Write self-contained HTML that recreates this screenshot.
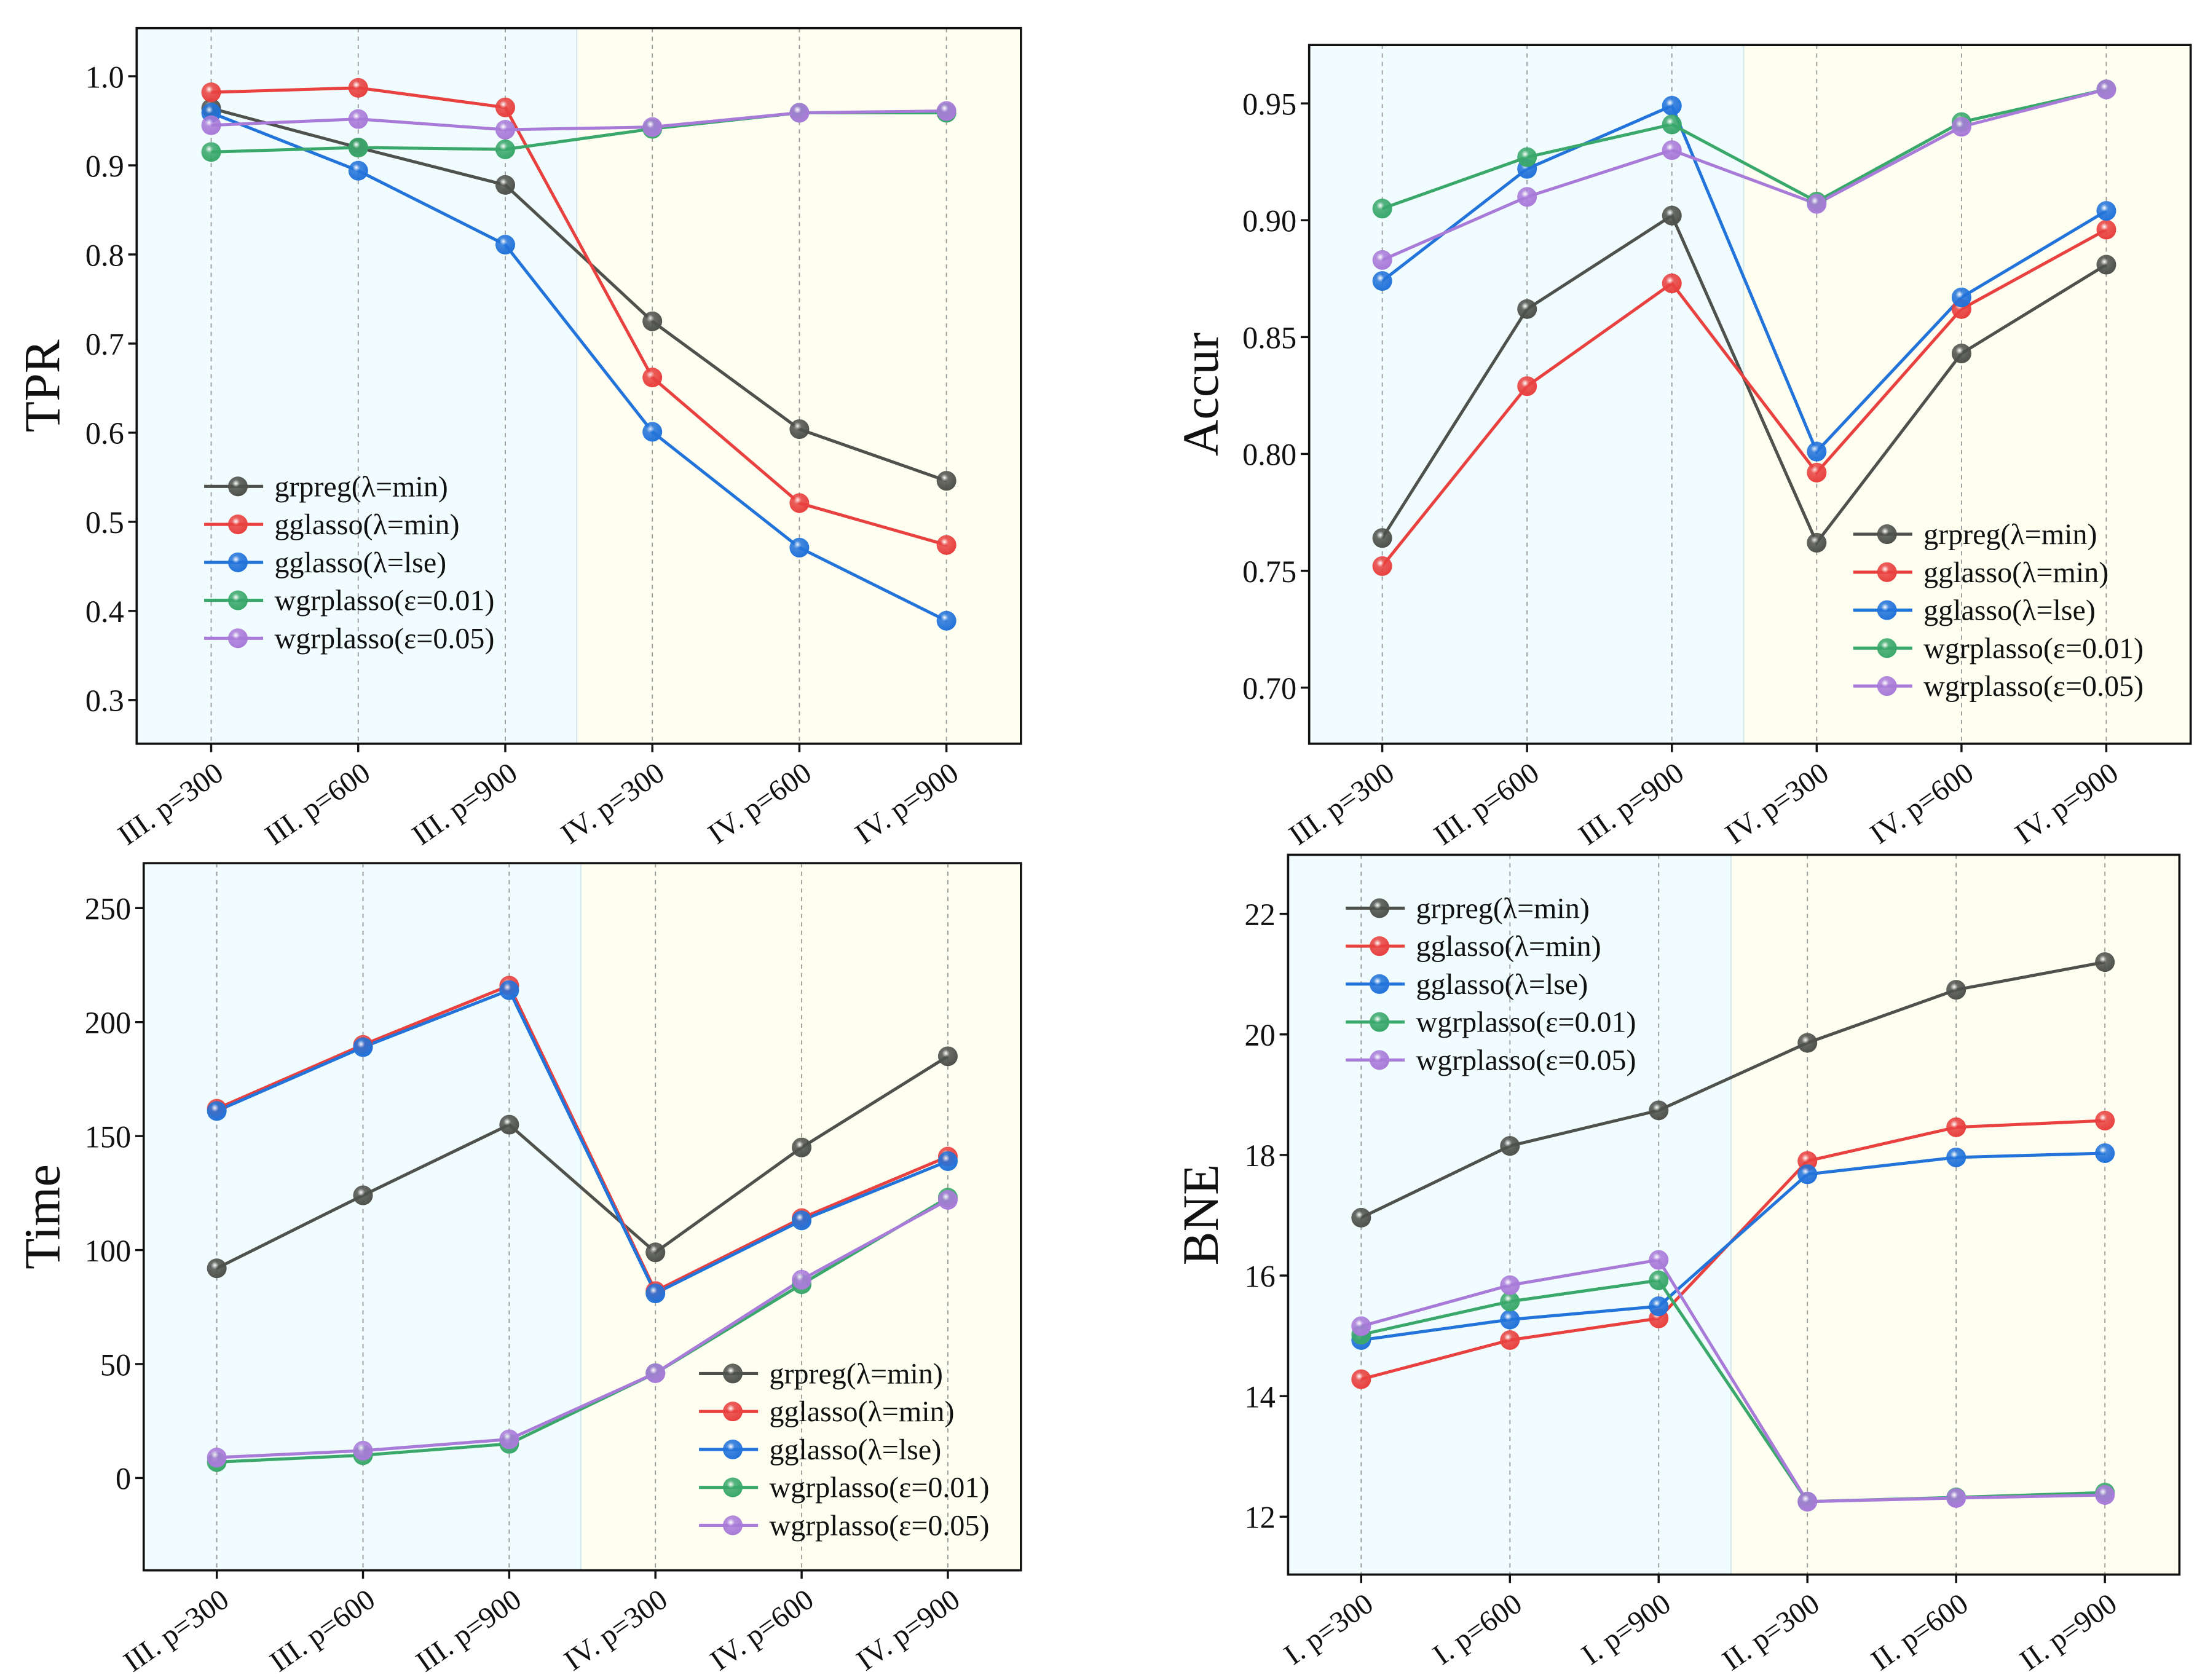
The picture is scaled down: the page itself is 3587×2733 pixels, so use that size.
<!DOCTYPE html>
<html><head><meta charset="utf-8"><style>
html,body{margin:0;padding:0;background:#fff}
svg{display:block}
text{font-family:"Liberation Serif",serif;fill:#111}
</style></head><body>
<svg id="chart" width="3587" height="2733" viewBox="0 0 1568 1195" xmlns="http://www.w3.org/2000/svg">
<defs id="defs"></defs>
</svg>
<script>
const seriesNames = ["grpreg(λ=min)","gglasso(λ=min)","gglasso(λ=lse)","wgrplasso(ε=0.01)","wgrplasso(ε=0.05)"];
const colors = ["#4f514c","#e8413f","#2273da","#3aa86b","#a97bd9"];
const catsA = ["III. p=300","III. p=600","III. p=900","IV. p=300","IV. p=600","IV. p=900"];
const catsB = ["I. p=300","I. p=600","I. p=900","II. p=300","II. p=600","II. p=900"];

const tprGrpreg = [0.964,0.920,0.878,0.725,0.604,0.546];
const tprGgMin = [0.982,0.987,0.965,0.662,0.521,0.474];
const tprGgLse = [0.959,0.894,0.811,0.601,0.471,0.389];
const tprW01 = [0.915,0.920,0.918,0.941,0.959,0.959];
const tprW05 = [0.945,0.952,0.940,0.943,0.959,0.961];
const tprTicks = [0.3,0.4,0.5,0.6,0.7,0.8,0.9,1.0];
const tprTickLabels = ["0.3","0.4","0.5","0.6","0.7","0.8","0.9","1.0"];

const accGrpreg = [0.764,0.862,0.902,0.762,0.843,0.881];
const accGgMin = [0.752,0.829,0.873,0.792,0.862,0.896];
const accGgLse = [0.874,0.922,0.949,0.801,0.867,0.904];
const accW01 = [0.905,0.927,0.941,0.908,0.942,0.956];
const accW05 = [0.883,0.910,0.930,0.907,0.940,0.956];
const accTicks = [0.70,0.75,0.80,0.85,0.90,0.95];
const accTickLabels = ["0.70","0.75","0.80","0.85","0.90","0.95"];

const timeGrpreg = [92,124,155,99,145,185];
const timeGgMin = [162,190,216,82,114,141];
const timeGgLse = [161,189,214,81,113,139];
const timeW01 = [7,10,15,46,85,123];
const timeW05 = [9,12,17,46,87,122];
const timeTicks = [0,50,100,150,200,250];
const timeTickLabels = ["0","50","100","150","200","250"];

const bneGrpreg = [16.96,18.15,18.74,19.86,20.74,21.20];
const bneGgMin = [14.28,14.93,15.29,17.90,18.46,18.57];
const bneGgLse = [14.93,15.27,15.49,17.68,17.96,18.03];
const bneW01 = [15.02,15.57,15.92,12.25,12.32,12.40];
const bneW05 = [15.16,15.84,16.26,12.25,12.31,12.36];
const bneTicks = [12,14,16,18,20,22];
const bneTickLabels = ["12","14","16","18","20","22"];

const NS = "http://www.w3.org/2000/svg";
const svg = document.getElementById("chart");
const defs = document.getElementById("defs");
colors.forEach((c,i)=>{
  const g = document.createElementNS(NS,"radialGradient");
  g.setAttribute("id","mk"+i); g.setAttribute("cx","0.4"); g.setAttribute("cy","0.35"); g.setAttribute("r","0.65");
  g.innerHTML = '<stop offset="0" stop-color="#ffffff" stop-opacity="0.9"/><stop offset="0.3" stop-color="'+c+'" stop-opacity="0.85"/><stop offset="1" stop-color="'+c+'"/>';
  defs.appendChild(g);
});
function el(tag, attrs, parent){
  const e = document.createElementNS(NS, tag);
  for (const k in attrs) e.setAttribute(k, attrs[k]);
  (parent||svg).appendChild(e); return e;
}
function panel(cfg){
  const g = el("g",{});
  
  
  const {x0,x1,y0,y1,vmin,vmax,catX,split} = cfg;
  const ys = v => y1 - (v - vmin)/(vmax - vmin)*(y1 - y0);
  const xs = i => catX[0] + i*(catX[1]-catX[0])/5;
  el("rect",{x:x0,y:y0,width:split-x0,height:y1-y0,fill:"#f0fcfd"},g);
  el("rect",{x:split,y:y0,width:x1-split,height:y1-y0,fill:"#fffff1"},g);
  el("line",{x1:split,y1:y0,x2:split,y2:y1,stroke:"#d8e8ee","stroke-width":1},g);
  cfg.cats.forEach((c,i)=>{
    const l = el("line",{x1:xs(i),y1:y0,x2:xs(i),y2:y1,stroke:"#999","stroke-width":0.8,"stroke-dasharray":"3,3"},g);
    
    
    el("line",{x1:xs(i),y1:y1,x2:xs(i),y2:y1+6,stroke:"#111","stroke-width":1.5},g);
    const tx = xs(i)+10, ty = y1+24;
    const t = el("text",{x:tx,y:ty,"font-size":21,"text-anchor":"end",transform:"rotate(-35 "+tx+" "+ty+")"},g);
    t.textContent = c;
    
    
  });
  cfg.ticks.forEach((v,i)=>{
    el("line",{x1:x0-6,y1:ys(v),x2:x0,y2:ys(v),stroke:"#111","stroke-width":1.5},g);
    const t = el("text",{x:x0-9,y:ys(v)+8,"font-size":22,"text-anchor":"end"},g);
    t.textContent = cfg.tickLabels[i];
    
    
  });
  const tt = el("text",{x:cfg.titleX,y:(y0+y1)/2,"font-size":36,"text-anchor":"middle",transform:"rotate(-90 "+cfg.titleX+" "+((y0+y1)/2)+")"},g);
  tt.textContent = cfg.title;
  
  
  cfg.series.forEach((vals,s)=>{
    const pts = vals.map((v,i)=>xs(i)+","+ys(v)).join(" ");
    const pl = el("polyline",{points:pts,fill:"none",stroke:colors[s],"stroke-width":2.2},g);
    
    
  });
  cfg.series.forEach((vals,s)=>{
    vals.forEach((v,i)=>{
      const c = el("circle",{cx:xs(i),cy:ys(v),r:7,fill:"url(#mk"+s+")"},g);
      
      
    });
  });
  el("rect",{x:x0,y:y0,width:x1-x0,height:y1-y0,fill:"none",stroke:"#111","stroke-width":1.6},g);
  const lg = el("g",{},g);
  
  
  seriesNames.forEach((n,s)=>{
    const y = cfg.legY + s*27;
    el("line",{x1:cfg.legX,y1:y,x2:cfg.legX+42,y2:y,stroke:colors[s],"stroke-width":2.2},lg);
    el("circle",{cx:cfg.legX+24,cy:y,r:7,fill:"url(#mk"+s+")"},lg);
    const t = el("text",{x:cfg.legX+50,y:y+7,"font-size":21},lg);
    t.textContent = n;
    
    
  });
}
panel({name:"tpr-panel",x0:97,x1:726,y0:20,y1:529,vmin:0.251,vmax:1.054,catX:[150,673],split:410,cats:catsA,
  ticks:tprTicks,tickLabels:tprTickLabels,title:"TPR",titleX:42,legX:145,legY:346,
  series:[tprGrpreg,tprGgMin,tprGgLse,tprW01,tprW05]});
panel({name:"accur-panel",x0:931,x1:1558,y0:32,y1:529,vmin:0.676,vmax:0.975,catX:[983,1498],split:1240,cats:catsA,
  ticks:accTicks,tickLabels:accTickLabels,title:"Accur",titleX:866,legX:1318,legY:380,
  series:[accGrpreg,accGgMin,accGgLse,accW01,accW05]});
panel({name:"time-panel",x0:102,x1:726,y0:614,y1:1117,vmin:-40.5,vmax:269.7,catX:[154,674],split:413,cats:catsA,
  ticks:timeTicks,tickLabels:timeTickLabels,title:"Time",titleX:42,legX:497,legY:977,
  series:[timeGrpreg,timeGgMin,timeGgLse,timeW01,timeW05]});
panel({name:"bne-panel",x0:916,x1:1550,y0:608,y1:1120,vmin:11.04,vmax:22.98,catX:[968,1497],split:1231,cats:catsB,
  ticks:bneTicks,tickLabels:bneTickLabels,title:"BNE",titleX:866,legX:957,legY:646,
  series:[bneGrpreg,bneGgMin,bneGgLse,bneW01,bneW05]});
</script>
</body></html>
